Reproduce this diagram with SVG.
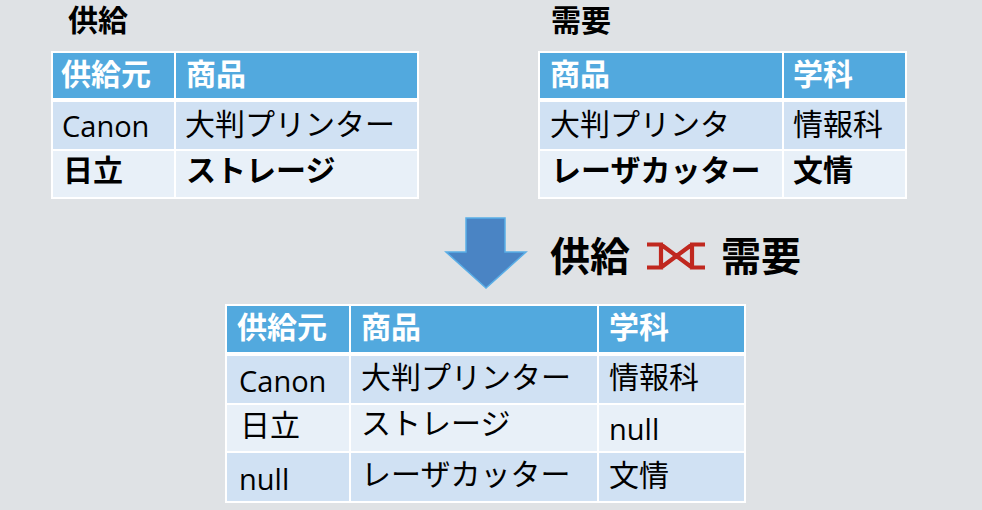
<svg xmlns="http://www.w3.org/2000/svg" width="982" height="510" viewBox="0 0 982 510">
<style>
text{font-family:"Open Sans","Noto Sans CJK JP",sans-serif;font-size:30px;fill:#000}
.l{font-size:29px}
.b{font-weight:bold}
.h{font-weight:bold;fill:#fff}
.t{font-weight:bold;font-size:30px}
.big{font-weight:bold;font-size:40px}
.hd{fill:#52A9DE}
.r1{fill:#D0E1F3}
.r2{fill:#E8F0F8}
.frame{fill:#fff}
</style>
<rect width="982" height="510" fill="#DFE2E5"/>
<g id="supply">
<text class="t" x="68" y="31">供給</text>
<rect class="frame" x="51" y="51" width="368" height="148"/>
<rect class="hd" x="53" y="53" width="121" height="45"/>
<rect class="hd" x="176" y="53" width="241" height="45"/>
<rect class="r1" x="53" y="102" width="121" height="47"/>
<rect class="r1" x="176" y="102" width="241" height="47"/>
<rect class="r2" x="53" y="151" width="121" height="46"/>
<rect class="r2" x="176" y="151" width="241" height="46"/>
<text class="h" x="61" y="85">供給元</text>
<text class="h" x="186" y="85">商品</text>
<text class="l" x="62" y="137">Canon</text>
<text x="185" y="135">大判プリンター</text>
<text class="b" x="63" y="181">日立</text>
<text class="b" x="186" y="181">ストレージ</text>
</g>
<g id="demand">
<text class="t" x="551" y="31">需要</text>
<rect class="frame" x="538" y="51" width="369" height="148"/>
<rect class="hd" x="540" y="53" width="242" height="45"/>
<rect class="hd" x="784" y="53" width="121" height="45"/>
<rect class="r1" x="540" y="102" width="242" height="47"/>
<rect class="r1" x="784" y="102" width="121" height="47"/>
<rect class="r2" x="540" y="151" width="242" height="46"/>
<rect class="r2" x="784" y="151" width="121" height="46"/>
<text class="h" x="550" y="85">商品</text>
<text class="h" x="793" y="85">学科</text>
<text x="550" y="135">大判プリンタ</text>
<text x="793" y="135">情報科</text>
<text class="b" x="551" y="181">レーザカッター</text>
<text class="b" x="793" y="181">文情</text>
</g>
<g id="arrow">
<path d="M466,218 H505 V252 H526 L486,288 L446,252 H466 Z" fill="#4A84C4" stroke="#5AAEE6" stroke-width="1.5" stroke-linejoin="miter"/>
</g>
<g id="join-label">
<text class="big" x="550" y="271">供給</text>
<path d="M647,244.5 H661 V267.5 H647 M705,244.5 H692 V267.5 H705 M661,244.5 L692,267.5 M661,267.5 L692,244.5" fill="none" stroke="#C0281F" stroke-width="4.2"/>
<text class="big" x="721" y="271">需要</text>
</g>
<g id="result">
<rect class="frame" x="225" y="304" width="521" height="199"/>
<rect class="hd" x="227" y="306" width="122" height="46"/>
<rect class="hd" x="351" y="306" width="246" height="46"/>
<rect class="hd" x="599" y="306" width="145" height="46"/>
<rect class="r1" x="227" y="356" width="122" height="47"/>
<rect class="r1" x="351" y="356" width="246" height="47"/>
<rect class="r1" x="599" y="356" width="145" height="47"/>
<rect class="r2" x="227" y="405" width="122" height="46"/>
<rect class="r2" x="351" y="405" width="246" height="46"/>
<rect class="r2" x="599" y="405" width="145" height="46"/>
<rect class="r1" x="227" y="453" width="122" height="48"/>
<rect class="r1" x="351" y="453" width="246" height="48"/>
<rect class="r1" x="599" y="453" width="145" height="48"/>
<text class="h" x="237" y="338">供給元</text>
<text class="h" x="361" y="338">商品</text>
<text class="h" x="609" y="338">学科</text>
<text class="l" x="239" y="392">Canon</text>
<text x="361" y="388">大判プリンター</text>
<text x="609" y="388">情報科</text>
<text x="240" y="436">日立</text>
<text x="361" y="434">ストレージ</text>
<text class="l" x="609" y="440">null</text>
<text class="l" x="239" y="490">null</text>
<text x="361" y="485">レーザカッター</text>
<text x="609" y="486">文情</text>
</g>
</svg>
